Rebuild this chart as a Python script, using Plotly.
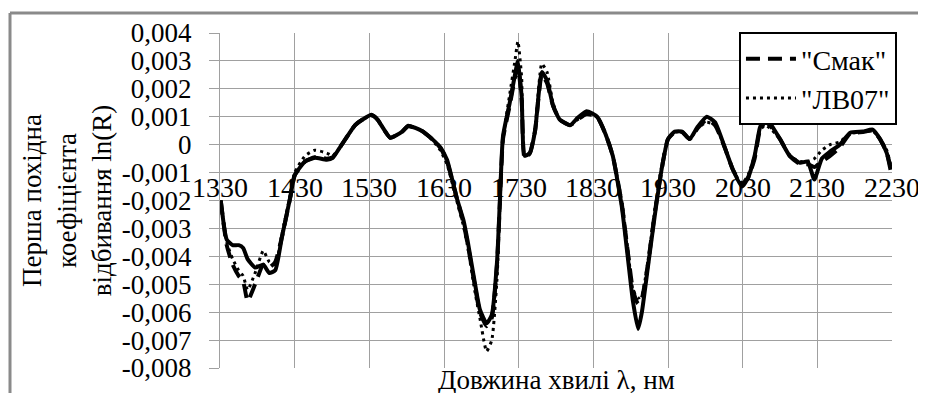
import plotly.graph_objects as go

wavelength = [1331, 1339, 1347, 1355, 1361, 1367, 1377, 1388, 1396, 1404, 1413, 1424, 1430, 1444, 1457,
              1473, 1481, 1493, 1511, 1521, 1533, 1541, 1558, 1574, 1582, 1600, 1615, 1625, 1634, 1647,
              1656, 1662, 1671, 1678, 1687, 1694, 1701, 1705, 1709, 1718, 1725, 1729, 1734, 1738, 1745,
              1752, 1761, 1768, 1776, 1785, 1799, 1809, 1821, 1835, 1846, 1856, 1868, 1876, 1883, 1890,
              1895, 1903, 1912, 1922, 1930, 1939, 1949, 1959, 1970, 1982, 1993, 2006, 2017, 2029, 2037,
              2046, 2053, 2060, 2066, 2080, 2093, 2107, 2117, 2126, 2136, 2147, 2160, 2174, 2191, 2204,
              2214, 2223, 2228]

solid = [-0.0020, -0.0034, -0.0036, -0.0036, -0.0037, -0.0041, -0.0044, -0.0043, -0.0046, -0.0045,
         -0.0033, -0.0019, -0.0011, -0.0006, -0.00047, -0.00054, -0.00047, 0.0, 0.0007, 0.0009,
         0.00107, 0.0009, 0.00025, 0.00047, 0.00068, 0.0005, 0.00018, -0.0001, -0.00054, -0.0019,
         -0.0027, -0.0035, -0.0049, -0.0059, -0.0064, -0.0061, -0.0042, -0.0019, 0.0003, 0.0015,
         0.0025, 0.0030, 0.0017, -0.0004, -0.0003, 0.0005, 0.0026, 0.0023, 0.0014, 0.0009,
         0.0007, 0.00096, 0.0012, 0.0010, 0.0004, -0.0004, -0.0022, -0.0040, -0.0056, -0.0066,
         -0.0060, -0.0044, -0.0026, -0.0008, 0.0002, 0.00047, 0.00047, 0.0002, 0.00065, 0.0010,
         0.0008, -0.0001, -0.0009, -0.0015, -0.0012, -0.0004, 0.0006, 0.0010, 0.0008, 0.0002,
         -0.0004, -0.00065, -0.0006, -0.00125, -0.0005, -0.00025, 0.0, 0.00043, 0.00047, 0.00054,
         0.0002, -0.0003, -0.0009]

smak = [-0.0020, -0.0036, -0.0043, -0.0047, -0.0049, -0.0056, -0.0050, -0.0043, -0.0044, -0.0042,
        -0.0033, -0.0019, -0.0011, -0.0006, -0.00045, -0.0005, -0.00045, 0.0, 0.0007, 0.0009,
        0.00105, 0.0009, 0.00025, 0.00047, 0.00066, 0.0005, 0.00018, -0.0001, -0.0006, -0.0019,
        -0.0028, -0.0036, -0.0050, -0.0060, -0.0065, -0.0062, -0.0043, -0.0020, 0.0002, 0.0014,
        0.0024, 0.0028, 0.0016, -0.0005, -0.0003, 0.0005, 0.0025, 0.0022, 0.0014, 0.0009,
        0.0007, 0.0009, 0.0011, 0.0010, 0.0004, -0.0004, -0.0021, -0.0038, -0.0052, -0.0057,
        -0.0055, -0.0043, -0.0025, -0.0008, 0.0002, 0.00045, 0.00045, 0.0002, 0.0006, 0.0009,
        0.0007, -0.0001, -0.0009, -0.0014, -0.0012, -0.0005, 0.0005, 0.0008, 0.0007, 0.0002,
        -0.0004, -0.0007, -0.0007, -0.0008, -0.0006, -0.0004, -0.0001, 0.0004, 0.00045, 0.0005,
        0.0002, -0.0003, -0.0008]

lv07 = [-0.0020, -0.0035, -0.0041, -0.0045, -0.0047, -0.0052, -0.0046, -0.0038, -0.0042, -0.0043,
        -0.0032, -0.0018, -0.0010, -0.0004, -0.0002, -0.0003, -0.0004, 0.0, 0.0007, 0.0009,
        0.00105, 0.0009, 0.00025, 0.00047, 0.00066, 0.0005, 0.00015, -0.0002, -0.0007, -0.0020,
        -0.0029, -0.0037, -0.0052, -0.0062, -0.0074, -0.0070, -0.0048, -0.0022, 0.0002, 0.0018,
        0.0030, 0.0037, 0.0024, -0.0004, -0.0003, 0.0006, 0.0029, 0.0026, 0.0015, 0.0009,
        0.0007, 0.0009, 0.0011, 0.0010, 0.0004, -0.0004, -0.0020, -0.0037, -0.0052, -0.0055,
        -0.0054, -0.0042, -0.0024, -0.0007, 0.0002, 0.00045, 0.00045, 0.0002, 0.0006, 0.0008,
        0.0007, -0.0001, -0.0009, -0.0014, -0.0011, -0.0004, 0.0005, 0.0007, 0.0006, 0.0002,
        -0.0004, -0.0006, -0.0006, -0.0005, -0.0002, 0.0, 0.0001, 0.0004, 0.00045, 0.0005,
        0.0002, -0.0002, -0.0007]

x_ticks = [1330, 1430, 1530, 1630, 1730, 1830, 1930, 2030, 2130, 2230]
x_tick_labels = ["1330", "1430", "1530", "1630", "1730", "1830", "1930", "2030", "2130", "2230"]
y_ticks = [0.004, 0.003, 0.002, 0.001, 0, -0.001, -0.002, -0.003, -0.004, -0.005, -0.006, -0.007, -0.008]
y_tick_labels = ["0,004", "0,003", "0,002", "0,001", "0", "-0,001", "-0,002", "-0,003", "-0,004",
                 "-0,005", "-0,006", "-0,007", "-0,008"]

FONT = "'Liberation Serif', 'Times New Roman', 'DejaVu Serif', serif"
GRID = "#a0a0a0"

fig = go.Figure()
fig.add_trace(go.Scatter(x=wavelength, y=solid, mode="lines", showlegend=False,
                         line=dict(color="black", width=4, shape="spline", smoothing=0.5)))
fig.add_trace(go.Scatter(x=wavelength, y=smak, mode="lines", name='"Смак"',
                         line=dict(color="black", width=4, dash="14px,8px", shape="spline", smoothing=0.5)))
fig.add_trace(go.Scatter(x=wavelength, y=lv07, mode="lines", name='"ЛВ07"',
                         line=dict(color="black", width=3, dash="3px,4px", shape="spline", smoothing=0.5)))

annotations = []
for xv, lab in zip(x_ticks, x_tick_labels):
    annotations.append(dict(x=xv, y=-0.00154, xref="x", yref="y", text=lab, showarrow=False,
                            xanchor="center", yanchor="middle", font=dict(family=FONT, size=28, color="black")))
annotations.append(dict(x=-0.228, y=0.5, xref="paper", yref="paper",
                        text="Перша похідна<br>коефіцієнта<br>відбивання ln(R)", textangle=-90,
                        showarrow=False, xanchor="center", yanchor="middle",
                        font=dict(family=FONT, size=27, color="black")))
annotations.append(dict(x=0.5, y=-0.035, xref="paper", yref="paper", text="Довжина хвилі λ, нм",
                        showarrow=False, xanchor="center", yanchor="middle",
                        font=dict(family=FONT, size=27, color="black")))

shapes = [
    dict(type="line", xref="paper", yref="paper", x0=-0.3125, x1=1.2, y0=1.0597, y1=1.0597,
         line=dict(color="#8a8a8a", width=3)),
    dict(type="line", xref="paper", yref="paper", x0=-0.3125, x1=-0.3125, y0=-0.2, y1=1.0597,
         line=dict(color="#8a8a8a", width=3)),
]

# the page body adds an 8px offset; the figure is sized so the plot area lands
# at window pixels x 220..892, y 33..368
fig.update_layout(
    width=918, height=385,
    margin=dict(l=212, r=34, t=25, b=25, autoexpand=False),
    paper_bgcolor="white", plot_bgcolor="white",
    font=dict(family=FONT, size=27, color="black"),
    annotations=annotations, shapes=shapes,
    legend=dict(x=1.0074, y=1.003, xanchor="right", yanchor="top",
                bgcolor="white", bordercolor="black", borderwidth=2,
                font=dict(family=FONT, size=28, color="black"),
                itemwidth=50, entrywidth=196, entrywidthmode="pixels", tracegroupgap=0),
    xaxis=dict(range=[1330, 2230], tickvals=x_ticks, showticklabels=False,
               showgrid=True, gridcolor=GRID, gridwidth=1, zeroline=False,
               showline=False, ticks=""),
    yaxis=dict(range=[-0.008, 0.004], tickvals=y_ticks, ticktext=y_tick_labels,
               showgrid=True, gridcolor=GRID, gridwidth=1, zeroline=False,
               showline=True, linecolor=GRID, linewidth=1,
               ticks="outside", ticklen=10, tickcolor=GRID, ticklabelstandoff=12,
               tickfont=dict(family=FONT, size=27, color="black")),
)

fig.write_html("out.html")
